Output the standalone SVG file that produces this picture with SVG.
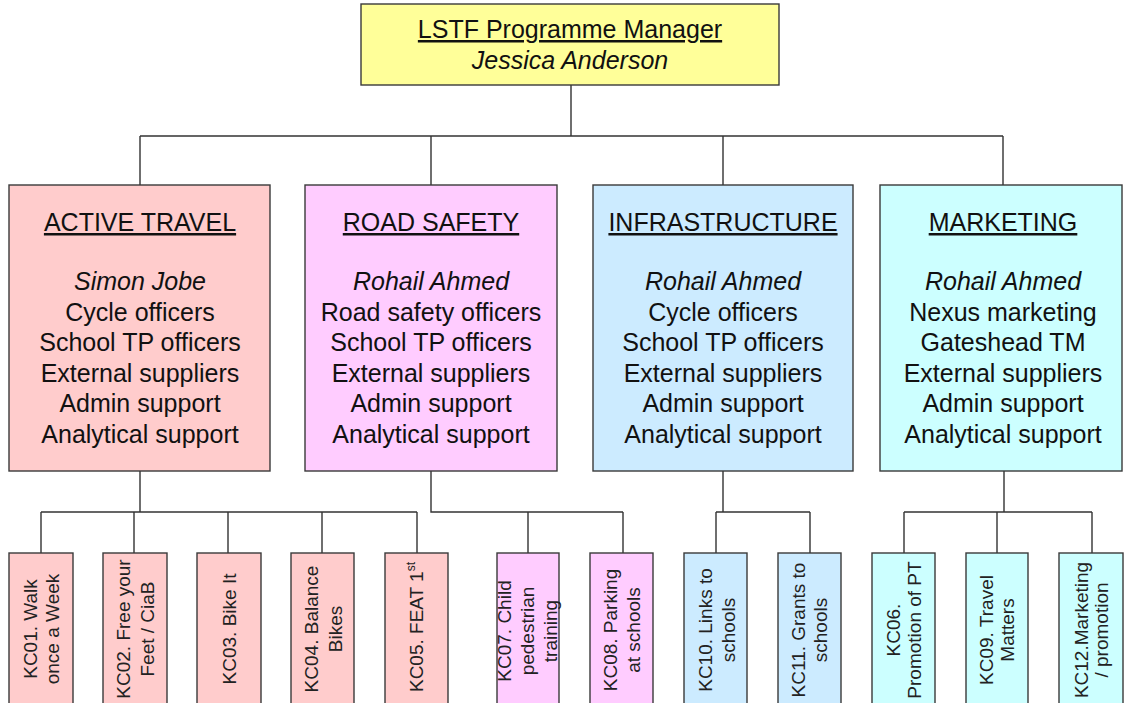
<svg xmlns="http://www.w3.org/2000/svg" width="1125" height="703" viewBox="0 0 1125 703">
<style>
  .box { stroke: #3a3a3a; stroke-width: 1.4; }
  .yellow { fill: #FFFF99; }
  .pink { fill: #FFCCCC; }
  .mag { fill: #FFCCFF; }
  .blue { fill: #CCEBFF; }
  .cyan { fill: #CCFFFF; }
  .t { font-family: "Liberation Sans", Arial, sans-serif; font-size: 25px; fill: #111; text-anchor: middle; }
  .u { text-decoration: underline; }
  .i { font-style: italic; }
  .s { font-family: "Liberation Sans", Arial, sans-serif; font-size: 19px; fill: #222; text-anchor: middle; }
  .c { stroke: #333; stroke-width: 1.4; fill: none; }
</style>
<rect width="1125" height="703" fill="#ffffff"/>

<g id="connectors">
  <path class="c" d="M571 85 V136 M140 136 H1003 M140 136 V185 M431 136 V185 M723 136 V185 M1003 136 V185"/>
  <path class="c" d="M140 471 V512 M41 512 H417 M41 512 V553 M134 512 V553 M228 512 V553 M322 512 V553 M417 512 V553"/>
  <path class="c" d="M431 471 V512 H623 M528 512 V553 M623 512 V553"/>
  <path class="c" d="M723 471 V512 M716 512 H810 M716 512 V553 M810 512 V553"/>
  <path class="c" d="M1004 471 V512 M904 512 H1092 M904 512 V553 M997 512 V553 M1092 512 V553"/>
</g>

<g id="manager">
  <rect class="box yellow" x="361" y="4" width="418" height="81"/>
  <text class="t u" x="570" y="38">LSTF Programme Manager</text>
  <text class="t i" x="570" y="69">Jessica Anderson</text>
</g>

<g id="active-travel">
  <rect class="box pink" x="9" y="185" width="261" height="286"/>
  <text class="t u" x="140" y="231">ACTIVE TRAVEL</text>
  <text class="t i" x="140" y="290">Simon Jobe</text>
  <text class="t" x="140" y="320.5">Cycle officers</text>
  <text class="t" x="140" y="351">School TP officers</text>
  <text class="t" x="140" y="381.5">External suppliers</text>
  <text class="t" x="140" y="412">Admin support</text>
  <text class="t" x="140" y="442.5">Analytical support</text>
</g>

<g id="road-safety">
  <rect class="box mag" x="305" y="185" width="252" height="286"/>
  <text class="t u" x="431" y="231">ROAD SAFETY</text>
  <text class="t i" x="431" y="290">Rohail Ahmed</text>
  <text class="t" x="431" y="320.5">Road safety officers</text>
  <text class="t" x="431" y="351">School TP officers</text>
  <text class="t" x="431" y="381.5">External suppliers</text>
  <text class="t" x="431" y="412">Admin support</text>
  <text class="t" x="431" y="442.5">Analytical support</text>
</g>

<g id="infrastructure">
  <rect class="box blue" x="593" y="185" width="260" height="286"/>
  <text class="t u" x="723" y="231">INFRASTRUCTURE</text>
  <text class="t i" x="723" y="290">Rohail Ahmed</text>
  <text class="t" x="723" y="320.5">Cycle officers</text>
  <text class="t" x="723" y="351">School TP officers</text>
  <text class="t" x="723" y="381.5">External suppliers</text>
  <text class="t" x="723" y="412">Admin support</text>
  <text class="t" x="723" y="442.5">Analytical support</text>
</g>

<g id="marketing">
  <rect class="box cyan" x="880" y="185" width="242" height="286"/>
  <text class="t u" x="1003" y="231">MARKETING</text>
  <text class="t i" x="1003" y="290">Rohail Ahmed</text>
  <text class="t" x="1003" y="320.5">Nexus marketing</text>
  <text class="t" x="1003" y="351">Gateshead TM</text>
  <text class="t" x="1003" y="381.5">External suppliers</text>
  <text class="t" x="1003" y="412">Admin support</text>
  <text class="t" x="1003" y="442.5">Analytical support</text>
</g>

<g id="kc01">
  <rect class="box pink" x="9" y="553" width="64" height="160"/>
  <text class="s" transform="translate(41 629) rotate(-90)"><tspan x="0" y="-4.5">KC01. Walk</tspan><tspan x="0" y="18">once a Week</tspan></text>
</g>
<g id="kc02">
  <rect class="box pink" x="103" y="553" width="64" height="160"/>
  <text class="s" transform="translate(135 629) rotate(-90)"><tspan x="0" y="-5.5">KC02. Free your</tspan><tspan x="0" y="18.5">Feet / CiaB</tspan></text>
</g>
<g id="kc03">
  <rect class="box pink" x="197" y="553" width="64" height="160"/>
  <text class="s" transform="translate(229 629) rotate(-90)"><tspan x="0" y="6.5">KC03. Bike It</tspan></text>
</g>
<g id="kc04">
  <rect class="box pink" x="291" y="553" width="63" height="160"/>
  <text class="s" transform="translate(322.5 629) rotate(-90)"><tspan x="0" y="-4.5">KC04. Balance</tspan><tspan x="0" y="19">Bikes</tspan></text>
</g>
<g id="kc05">
  <rect class="box pink" x="385" y="553" width="63" height="160"/>
  <text class="s" transform="translate(416.5 627) rotate(-90)"><tspan x="0" y="6.5">KC05. FEAT 1<tspan font-size="12" dy="-8">st</tspan></tspan></text>
</g>
<g id="kc07">
  <rect class="box mag" x="497" y="553" width="62" height="160"/>
  <text class="s" transform="translate(528 631) rotate(-90)"><tspan x="0" y="-17">KC07. Child</tspan><tspan x="0" y="6">pedestrian</tspan><tspan x="0" y="29">training</tspan></text>
</g>
<g id="kc08">
  <rect class="box mag" x="590" y="553" width="63" height="160"/>
  <text class="s" transform="translate(621.5 630) rotate(-90)"><tspan x="0" y="-5">KC08. Parking</tspan><tspan x="0" y="18.5">at schools</tspan></text>
</g>
<g id="kc10">
  <rect class="box blue" x="684" y="553" width="63" height="160"/>
  <text class="s" transform="translate(715.5 630) rotate(-90)"><tspan x="0" y="-3.5">KC10. Links to</tspan><tspan x="0" y="19">schools</tspan></text>
</g>
<g id="kc11">
  <rect class="box blue" x="778" y="553" width="63" height="160"/>
  <text class="s" transform="translate(809.5 630) rotate(-90)"><tspan x="0" y="-4.5">KC11. Grants to</tspan><tspan x="0" y="17.5">schools</tspan></text>
</g>
<g id="kc06">
  <rect class="box cyan" x="872" y="553" width="63" height="160"/>
  <text class="s" transform="translate(903.5 630) rotate(-90)"><tspan x="0" y="-3.5">KC06.</tspan><tspan x="0" y="17.5">Promotion of PT</tspan></text>
</g>
<g id="kc09">
  <rect class="box cyan" x="966" y="553" width="62" height="160"/>
  <text class="s" transform="translate(997 630) rotate(-90)"><tspan x="0" y="-4">KC09. Travel</tspan><tspan x="0" y="16.5">Matters</tspan></text>
</g>
<g id="kc12">
  <rect class="box cyan" x="1059" y="553" width="64" height="160"/>
  <text class="s" transform="translate(1091 630) rotate(-90)"><tspan x="0" y="-3">KC12.Marketing</tspan><tspan x="0" y="17">/ promotion</tspan></text>
</g>
</svg>
